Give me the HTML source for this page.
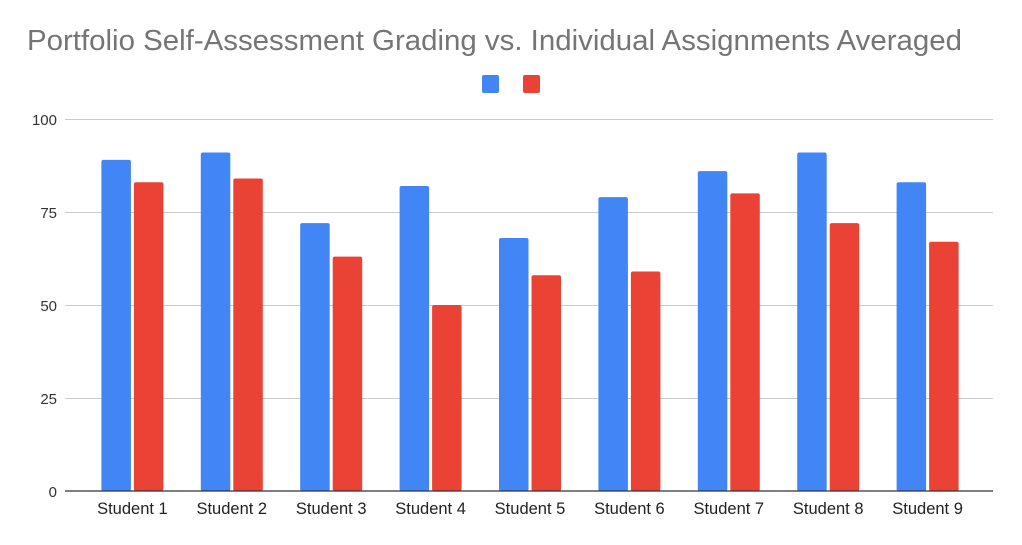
<!DOCTYPE html>
<html><head><style>body{margin:0;background:#fff}svg{display:block}</style></head><body>
<svg width="1022" height="545" xmlns="http://www.w3.org/2000/svg" font-family="Liberation Sans, sans-serif">
<rect width="1022" height="545" fill="#fff"/>
<text x="27" y="50" font-size="28.5" fill="#757575" textLength="935" lengthAdjust="spacingAndGlyphs">Portfolio Self-Assessment Grading vs. Individual Assignments Averaged</text>
<rect x="482" y="75" width="17" height="18" rx="2" fill="#4285f4"/>
<rect x="523" y="75" width="17" height="18" rx="2" fill="#ea4335"/>
<g stroke="#ccc" stroke-width="1">
<line x1="65" x2="993" y1="119.5" y2="119.5"/><line x1="65" x2="993" y1="212.5" y2="212.5"/>
<line x1="65" x2="993" y1="305.5" y2="305.5"/><line x1="65" x2="993" y1="398.5" y2="398.5"/>
</g>
<g font-size="15" fill="#333" text-anchor="end">
<text x="57" y="125">100</text><text x="57" y="218">75</text><text x="57" y="311">50</text><text x="57" y="404">25</text><text x="57" y="497">0</text>
</g>
<g id="bars"></g>
<line x1="65" x2="993" y1="491" y2="491" stroke="#333" stroke-width="1.2"/>
<g font-size="16.5" fill="#222" text-anchor="middle" id="labels"></g>
<script>
var v=[[89,83],[91,84],[72,63],[82,50],[68,58],[79,59],[86,80],[91,72],[83,67]];
var g=document.getElementById('bars'),L=document.getElementById('labels'),ns='http://www.w3.org/2000/svg';
v.forEach(function(p,i){var c=132.4+i*99.4;
[[c-31,p[0],'#4285f4'],[c+1.5,p[1],'#ea4335']].forEach(function(b){var r=document.createElementNS(ns,'rect');var h=b[1]*3.72;
r.setAttribute('x',b[0]);r.setAttribute('width',29.5);r.setAttribute('y',491-h);r.setAttribute('height',h);r.setAttribute('rx',2);r.setAttribute('fill',b[2]);g.appendChild(r);});
var t=document.createElementNS(ns,'text');t.setAttribute('x',c);t.setAttribute('y',514);t.textContent='Student '+(i+1);L.appendChild(t);});
</script>
</svg>
</body></html>
